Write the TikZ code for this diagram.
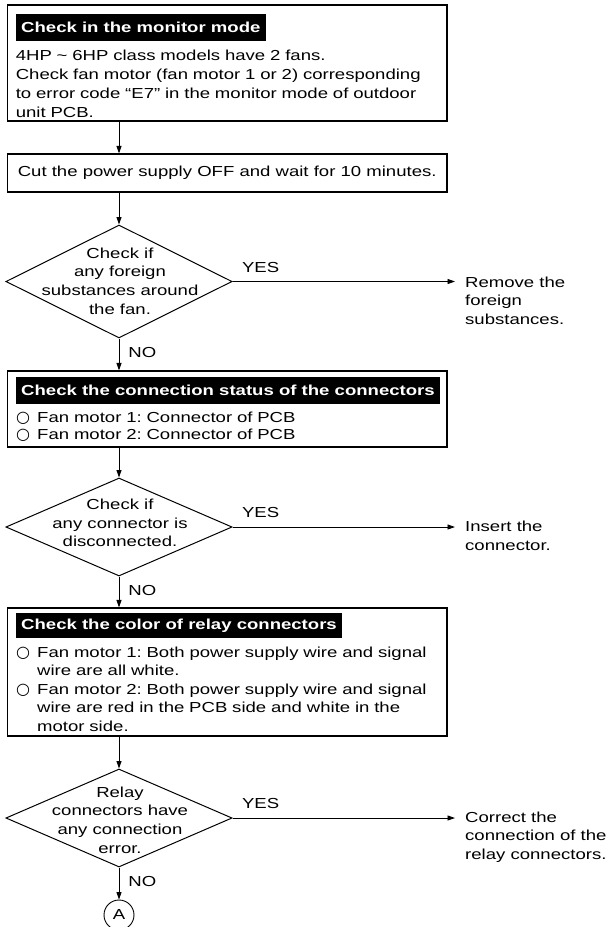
\documentclass[tikz,border=0pt]{standalone}
\usepackage{fontspec}
\setmainfont{Liberation Sans}[FakeStretch=1.28]
\newfontfamily\symfont{DejaVu Sans}
\usetikzlibrary{arrows.meta, positioning, shapes.geometric}
\frenchspacing

\newcommand{\flowsize}{\fontsize{14.5}{19}\selectfont}
\newcommand{\fanitem}{\makebox[21pt][l]{\symfont\fontsize{16}{16}\selectfont ○}}
\newcommand{\fanhang}{\hspace*{21pt}}

\begin{document}
\begin{tikzpicture}[x=1pt, y=-1pt,
    box/.style={draw, line width=1.1pt, inner sep=0pt, minimum width=439.6pt},
    ttl/.style={anchor=north west, fill=black, text=white, font=\flowsize\bfseries,
                inner xsep=5.4pt, inner ysep=0pt, minimum height=27pt},
    body/.style={anchor=north west, inner sep=0pt, text width=428pt, align=left},
    dec/.style={diamond, draw, line width=1pt, inner sep=0pt, minimum width=226.2pt, minimum height=98pt},
    dtxt/.style={align=center, inner sep=0pt, font=\fontsize{14.5}{18.7}\selectfont},
    res/.style={anchor=north west, align=left, inner xsep=10pt, inner ysep=0pt,
                font=\fontsize{14.5}{18.7}\selectfont},
    lbl/.style={anchor=base west, inner sep=0pt},
    arr/.style={-{Triangle[length=7.5pt,width=5pt]}, line width=0.9pt},
    font=\flowsize]
  \useasboundingbox (0,0) rectangle (609,927);

  % monitor mode
  \node[box, minimum height=116pt] (mon) at (227.2,63) {};
  \node[ttl] (monT) at (15.6,14) {Check in the monitor mode};
  \node[body] (monB) at (15.6,49.3) {4HP \textasciitilde{} 6HP class models have 2 fans.\\
    Check fan motor (fan motor 1 or 2) corresponding\\
    to error code “E7” in the monitor mode of outdoor\\
    unit PCB.};

  \node[box, minimum height=38pt] (pwr) at (227.2,173) {Cut the power supply OFF and wait for 10 minutes.};

  % foreign substances
  \node[dec, minimum height=113pt] (dFan) at (119,281.5) {};
  \node[dtxt] (dFanT) at (120,281) {Check if\\ any foreign\\ substances around\\ the fan.};
  \node[res] (rFan) at (455,276.5) {Remove the\\ foreign\\ substances.};

  % connection status
  \node[box, minimum height=76pt] (conn) at (227.2,409) {};
  \node[ttl] (connT) at (15.6,377) {Check the connection status of the connectors};
  \node[body, font=\fontsize{14.5}{17.5}\selectfont] (connB) at (16,411.5)
    {\fanitem Fan motor 1: Connector of PCB\\ \fanitem Fan motor 2: Connector of PCB};

  \node[dec] (dConn) at (119,527) {};
  \node[dtxt] (dConnT) at (120,523) {Check if\\ any connector is\\ disconnected.};
  \node[res] (rConn) at (455,520.8) {Insert the\\ connector.};

  % relay connectors
  \node[box, minimum height=128pt] (relay) at (227.2,672) {};
  \node[ttl, minimum height=25pt] (relayT) at (15.6,613) {Check the color of relay connectors};
  \node[body, font=\fontsize{14.5}{18.5}\selectfont] (relayB) at (16,646.5)
    {\fanitem Fan motor 1: Both power supply wire and signal\\ \fanhang wire are all white.\\
     \fanitem Fan motor 2: Both power supply wire and signal\\ \fanhang wire are red in the PCB side and white in the\\
     \fanhang motor side.};

  \node[dec] (dRelay) at (119,818) {};
  \node[dtxt] (dRelayT) at (120,820) {Relay\\ connectors have\\ any connection\\ error.};
  \node[res] (rRelay) at (455,811.5) {Correct the\\ connection of the\\ relay connectors.};

  \node[circle, draw, line width=0.9pt, minimum size=30pt, inner sep=0pt] (conA) at (119,915) {A};

  % connectors
  \draw[arr] (dFan |- mon.south) -- (dFan |- pwr.north);
  \draw[arr] (dFan |- pwr.south) -- (dFan.north);
  \draw[arr] (dFan.east) -- node[lbl, pos=0, xshift=9pt, yshift=9.5pt]{YES} (dFan.east -| rFan.west);
  \draw[arr] (dFan.south) -- node[lbl, pos=0, xshift=9pt, yshift=-18.5pt]{NO} (dFan |- conn.north);
  \draw[arr] (dConn |- conn.south) -- (dConn.north);
  \draw[arr] (dConn.east) -- node[lbl, pos=0, xshift=9pt, yshift=9.5pt]{YES} (dConn.east -| rConn.west);
  \draw[arr] (dConn.south) -- node[lbl, pos=0, xshift=9pt, yshift=-18.5pt]{NO} (dConn |- relay.north);
  \draw[arr] (dRelay |- relay.south) -- (dRelay.north);
  \draw[arr] (dRelay.east) -- node[lbl, pos=0, xshift=9pt, yshift=9.5pt]{YES} (dRelay.east -| rRelay.west);
  \draw[arr] (dRelay.south) -- node[lbl, pos=0, xshift=9pt, yshift=-18.5pt]{NO} (conA.north);
\end{tikzpicture}
\end{document}
